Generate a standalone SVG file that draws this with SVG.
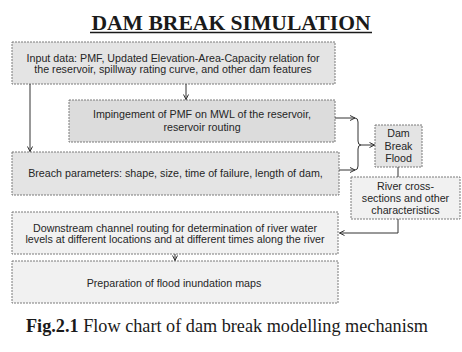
<svg xmlns="http://www.w3.org/2000/svg" width="462" height="352" viewBox="0 0 462 352">
<defs>
<marker id="ah" markerWidth="8" markerHeight="8" refX="6" refY="4" orient="auto" markerUnits="userSpaceOnUse">
<path d="M1,1.5 L6,4 L1,6.5" fill="none" stroke="#333" stroke-width="1"/>
</marker>
</defs>
<style>
.box{stroke:#7a7a7a;stroke-width:1;stroke-dasharray:2 1;}
.g1{fill:#e4e4e4;}
.g2{fill:#dcdcdc;}
.g3{fill:#f1f1f1;}
.t{font-family:"Liberation Sans",Arial,sans-serif;font-size:10.7px;fill:#262626;text-anchor:middle;}
.c{fill:none;stroke:#333;stroke-width:1;}
</style>
<rect width="462" height="352" fill="#ffffff"/>
<g id="title">
<text x="231" y="29.5" font-family="'Liberation Serif','Times New Roman',serif" font-weight="bold" font-size="21.6" fill="#1a1a1a" text-anchor="middle">DAM BREAK SIMULATION</text>
<line x1="90" y1="32.5" x2="372" y2="32.5" stroke="#1a1a1a" stroke-width="1.5"/>
</g>
<g id="input">
<rect class="box g1" x="12" y="42" width="323" height="42"/>
<text class="t" x="173" y="61.5">Input data: PMF, Updated Elevation-Area-Capacity relation for</text>
<text class="t" x="173" y="73">the reservoir, spillway rating curve, and other dam features</text>
</g>
<g id="impingement">
<rect class="box g2" x="69" y="100" width="266" height="42"/>
<text class="t" x="202" y="117.5">Impingement of PMF on MWL of the reservoir,</text>
<text class="t" x="202" y="131">reservoir routing</text>
</g>
<g id="breach">
<rect class="box g1" x="12" y="152" width="327" height="43"/>
<text class="t" x="175.5" y="177">Breach parameters: shape, size, time of failure, length of dam,</text>
</g>
<g id="dambreak">
<rect class="box g1" x="375" y="125" width="47" height="42"/>
<text class="t" x="398.5" y="137">Dam</text>
<text class="t" x="398.5" y="149.5">Break</text>
<text class="t" x="398.5" y="162">Flood</text>
</g>
<g id="river">
<rect class="box g3" x="351" y="177" width="109" height="42"/>
<text class="t" x="405.5" y="190">River cross-</text>
<text class="t" x="405.5" y="202">sections and other</text>
<text class="t" x="405.5" y="214">characteristics</text>
</g>
<g id="downstream">
<rect class="box g3" x="12" y="212" width="326" height="42"/>
<text class="t" x="175" y="231.5">Downstream channel routing for determination of river water</text>
<text class="t" x="175" y="243">levels at different locations and at different times along the river</text>
</g>
<g id="inundation">
<rect class="box g3" x="12" y="261" width="326" height="42"/>
<text class="t" x="174" y="286.5">Preparation of flood inundation maps</text>
</g>
<g id="connectors">
<line class="c" x1="186" y1="84" x2="186" y2="99.5" marker-end="url(#ah)"/>
<line class="c" x1="30" y1="84" x2="30" y2="151.5" marker-end="url(#ah)"/>
<line class="c" x1="335" y1="118" x2="355" y2="118" marker-end="url(#ah)"/>
<line class="c" x1="339" y1="170" x2="355" y2="170" marker-end="url(#ah)"/>
<path class="c" d="M355,118 Q358,118 358,122 V141 Q358,145 361,145 Q358,145 358,149 V166 Q358,170 355,170"/>
<line class="c" x1="361" y1="145" x2="374.5" y2="145" marker-end="url(#ah)"/>
<line class="c" x1="398" y1="167" x2="398" y2="177"/>
<polyline class="c" points="398,219 398,233 339.5,233" marker-end="url(#ah)"/>
<line class="c" x1="175" y1="254" x2="175" y2="260.5" marker-end="url(#ah)"/>
</g>
<g id="caption">
<text x="227" y="332" font-family="'Liberation Serif','Times New Roman',serif" font-size="18" fill="#1a1a1a" text-anchor="middle" textLength="402" lengthAdjust="spacingAndGlyphs"><tspan font-weight="bold">Fig.2.1</tspan> Flow chart of dam break modelling mechanism</text>
</g>
</svg>
